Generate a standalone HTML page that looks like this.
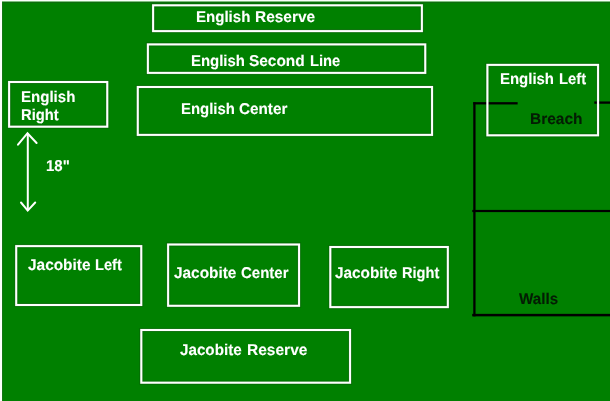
<!DOCTYPE html>
<html><head><meta charset="utf-8">
<style>
html,body{margin:0;padding:0;}
body{width:610px;height:401px;overflow:hidden;background:#008000;position:relative;font-family:"Liberation Sans",Arial,sans-serif;font-weight:bold;font-size:15.6px;color:#fff;}
.t{position:absolute;white-space:nowrap;line-height:16px;transform-origin:0 0;-webkit-text-stroke:0.1px currentColor;text-rendering:geometricPrecision;}
svg{position:absolute;left:0;top:0;}
#all{position:absolute;left:0;top:0;width:630px;height:401px;will-change:transform;}
</style></head><body>
<div id="all">
<svg width="630" height="401" viewBox="0 0 630 401">
<g fill="none" stroke="#005c00" stroke-width="4" stroke-opacity="0.6">
<rect x="153.1" y="5.3" width="268.8" height="25.8"/>
<rect x="147.9" y="44.4" width="277.35" height="28.5"/>
<rect x="137.8" y="87.0" width="294.25" height="47.9"/>
<rect x="9.1" y="82.0" width="98.15" height="44.7"/>
<rect x="487.4" y="64.9" width="110.65" height="70.4"/>
<rect x="16.2" y="246.1" width="125.05" height="58.9"/>
<rect x="168.1" y="244.5" width="130.95" height="61.3"/>
<rect x="330.3" y="247.0" width="117.55" height="60.1"/>
<rect x="141.3" y="330.0" width="208.75" height="52.7"/>
</g>
<!-- walls -->
<g fill="#000">
<rect x="473.25" y="102.15" width="2.3" height="214.2"/>
<rect x="473.25" y="102.15" width="44.4" height="2.3"/>
<rect x="594.3" y="101.45" width="30" height="2.3"/>
<rect x="472.3" y="209.9" width="152" height="2.2"/>
<rect x="472.2" y="313.85" width="152" height="2.5"/>
</g>
<!-- unit boxes -->
<g fill="none" stroke="#fff" stroke-width="2.7" stroke-opacity="0.22">
<rect x="153.1" y="5.3" width="268.8" height="25.8"/>
<rect x="147.9" y="44.4" width="277.35" height="28.5"/>
<rect x="137.8" y="87.0" width="294.25" height="47.9"/>
<rect x="9.1" y="82.0" width="98.15" height="44.7"/>
<rect x="487.4" y="64.9" width="110.65" height="70.4"/>
<rect x="16.2" y="246.1" width="125.05" height="58.9"/>
<rect x="168.1" y="244.5" width="130.95" height="61.3"/>
<rect x="330.3" y="247.0" width="117.55" height="60.1"/>
<rect x="141.3" y="330.0" width="208.75" height="52.7"/>
</g>
<g fill="none" stroke="#fff" stroke-width="2.0">
<rect x="153.1" y="5.3" width="268.8" height="25.8"/>
<rect x="147.9" y="44.4" width="277.35" height="28.5"/>
<rect x="137.8" y="87.0" width="294.25" height="47.9"/>
<rect x="9.1" y="82.0" width="98.15" height="44.7"/>
<rect x="487.4" y="64.9" width="110.65" height="70.4"/>
<rect x="16.2" y="246.1" width="125.05" height="58.9"/>
<rect x="168.1" y="244.5" width="130.95" height="61.3"/>
<rect x="330.3" y="247.0" width="117.55" height="60.1"/>
<rect x="141.3" y="330.0" width="208.75" height="52.7"/>
</g>
<!-- arrow -->
<g stroke="#fff" stroke-width="2" fill="none" stroke-linecap="round" stroke-linejoin="miter">
<line x1="27.8" y1="134" x2="27.8" y2="210"/>
<polyline points="18,144.7 27.5,133.2 36.6,143"/>
<polyline points="21,202.5 27.7,210.6 35.2,202.5"/>
</g>
</svg>
<div class="l"><span class="t" style="left:196.1px;top:10px;transform:scaleX(0.965)">English</span> <span class="t" style="left:255.0px;top:10px;transform:scaleX(0.99)">Reserve</span></div>
<div class="l"><span class="t" style="left:191.0px;top:54px;transform:scaleX(0.957)">English</span> <span class="t" style="left:249.4px;top:54px;transform:scaleX(0.989)">Second</span> <span class="t" style="left:309.8px;top:54px;transform:scaleX(0.942)">Line</span></div>
<div class="l"><span class="t" style="left:181.1px;top:102px;transform:scaleX(0.956)">English</span> <span class="t" style="left:239.4px;top:102px;transform:scaleX(0.98)">Center</span></div>
<div class="l"><span class="t" style="left:20.6px;top:90px;transform:scaleX(0.965)">English</span></div>
<div class="l"><span class="t" style="left:20.6px;top:108px;transform:scaleX(0.945)">Right</span></div>
<div class="l"><span class="t" style="left:500.2px;top:72px;transform:scaleX(0.959)">English</span> <span class="t" style="left:559.0px;top:72px;transform:scaleX(0.947)">Left</span></div>
<div class="l" style="color:#041c04"><span class="t" style="left:529.8px;top:112px;transform:scaleX(0.992)">Breach</span></div>
<div class="l"><span class="t" style="left:27.9px;top:258px;transform:scaleX(0.988)">Jacobite</span> <span class="t" style="left:95.0px;top:258px;transform:scaleX(0.939)">Left</span></div>
<div class="l"><span class="t" style="left:174.0px;top:266px;transform:scaleX(0.986)">Jacobite</span> <span class="t" style="left:240.5px;top:266px;transform:scaleX(0.961)">Center</span></div>
<div class="l"><span class="t" style="left:335.1px;top:266px;transform:scaleX(0.984)">Jacobite</span> <span class="t" style="left:402.1px;top:266px;transform:scaleX(0.936)">Right</span></div>
<div class="l"><span class="t" style="left:180.2px;top:343px;transform:scaleX(0.975)">Jacobite</span> <span class="t" style="left:246.8px;top:343px;transform:scaleX(0.995)">Reserve</span></div>
<div class="l"><span class="t" style="left:46.0px;top:159px;transform:scaleX(0.96)">18&quot;</span></div>
<div class="l" style="color:#041c04"><span class="t" style="left:518.6px;top:292px;transform:scaleX(0.975)">Walls</span></div>
</div>
<svg width="610" height="401" viewBox="0 0 610 401">
<!-- frame edges -->
<rect x="0" y="0" width="610" height="1" fill="#fbfffb"/>
<rect x="0" y="1" width="610" height="1" fill="#7fbf7f"/>
<rect x="0" y="2" width="610" height="1" fill="#0d6c0d"/>
<rect x="0" y="0" width="2" height="401" fill="#fbfffb"/>
<rect x="2" y="2" width="1" height="399" fill="#147614"/>
</svg>
</body></html>
